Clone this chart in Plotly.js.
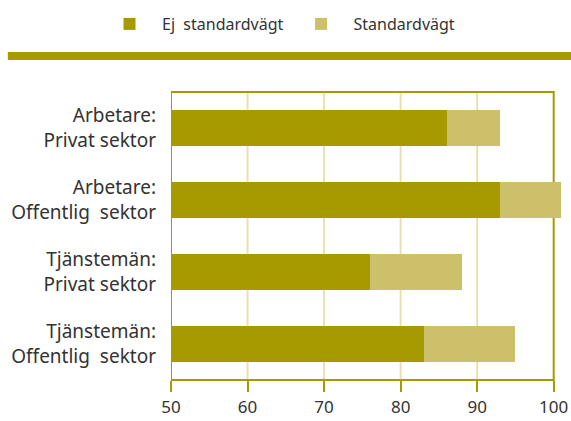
<!DOCTYPE html>
<html>
<head>
<meta charset="utf-8">
<script src="https://cdn.plot.ly/plotly-3.0.1.min.js"></script>
<style>html,body{margin:0;padding:0;background:#fff;}#chart{width:571px;height:421px;}</style>
</head>
<body>
<div id="chart"></div>
<script>
var categories = ["Arbetare:<br>Privat sektor", "Arbetare:<br>Offentlig\u00a0 sektor", "Tjänstemän:<br>Privat sektor", "Tjänstemän:<br>Offentlig\u00a0 sektor"];
var ejStandardvagt = [86, 93, 76, 83];
var standardvagtTillagg = [7, 8, 12, 12];
var seriesNames = ["Ej\u00a0 standardvägt", "Standardvägt"];
var tickValues = [50, 60, 70, 80, 90, 100];

var dark = "#a69a00";
var light = "#ccc16a";
var grid = "#e7e0b2";
var font = "Noto Sans, sans-serif";

var traces = [
  {type: "bar", orientation: "h", name: seriesNames[0], y: categories, x: ejStandardvagt,
   marker: {color: dark, line: {width: 0}}, hoverinfo: "skip"},
  {type: "bar", orientation: "h", name: seriesNames[1], y: categories, x: standardvagtTillagg,
   marker: {color: light, line: {width: 0}}, hoverinfo: "skip"}
];

var shapes = [];
[60, 70, 80, 90].forEach(function (v) {
  shapes.push({type: "line", layer: "below", xref: "x", yref: "paper", x0: v, x1: v, y0: 0, y1: 1,
    line: {color: grid, width: 2}});
});
shapes.push({type: "rect", layer: "below", xref: "x", yref: "paper", x0: 50, x1: 100, y0: 0, y1: 1,
  line: {color: dark, width: 2}});
shapes.push({type: "rect", layer: "below", xref: "paper", yref: "paper", x0: -0.41, x1: 1.01, y0: 1.111, y1: 1.139,
  fillcolor: dark, line: {width: 0}});

var layout = {
  width: 571, height: 421,
  margin: {l: 171, r: 2, t: 92, b: 41},
  paper_bgcolor: "#fff", plot_bgcolor: "rgba(0,0,0,0)",
  barmode: "stack", bargap: 0.5,
  font: {family: font, color: "#333", size: 16},
  showlegend: true,
  legend: {orientation: "h", xref: "container", yref: "container", x: 97 / 571, xanchor: "left",
    y: 1 - 24 / 421, yanchor: "middle", itemwidth: 55,
    font: {size: 16, color: "#333"}, traceorder: "normal", bgcolor: "rgba(0,0,0,0)"},
  xaxis: {range: [50, 102], tickvals: tickValues, ticktext: tickValues.map(String),
    showgrid: false, zeroline: false, showline: false,
    ticks: "outside", ticklen: 11, tickwidth: 2, tickcolor: dark, ticklabelstandoff: 1,
    tickfont: {size: 17, color: "#333"}, fixedrange: true},
  yaxis: {autorange: "reversed", showgrid: false, zeroline: false, showline: false, ticks: "",
    tickfont: {size: 19, color: "#333"}, ticklabelstandoff: 14, fixedrange: true},
  shapes: shapes
};

Plotly.newPlot("chart", traces, layout, {displayModeBar: false, staticPlot: true});
</script>
</body>
</html>
